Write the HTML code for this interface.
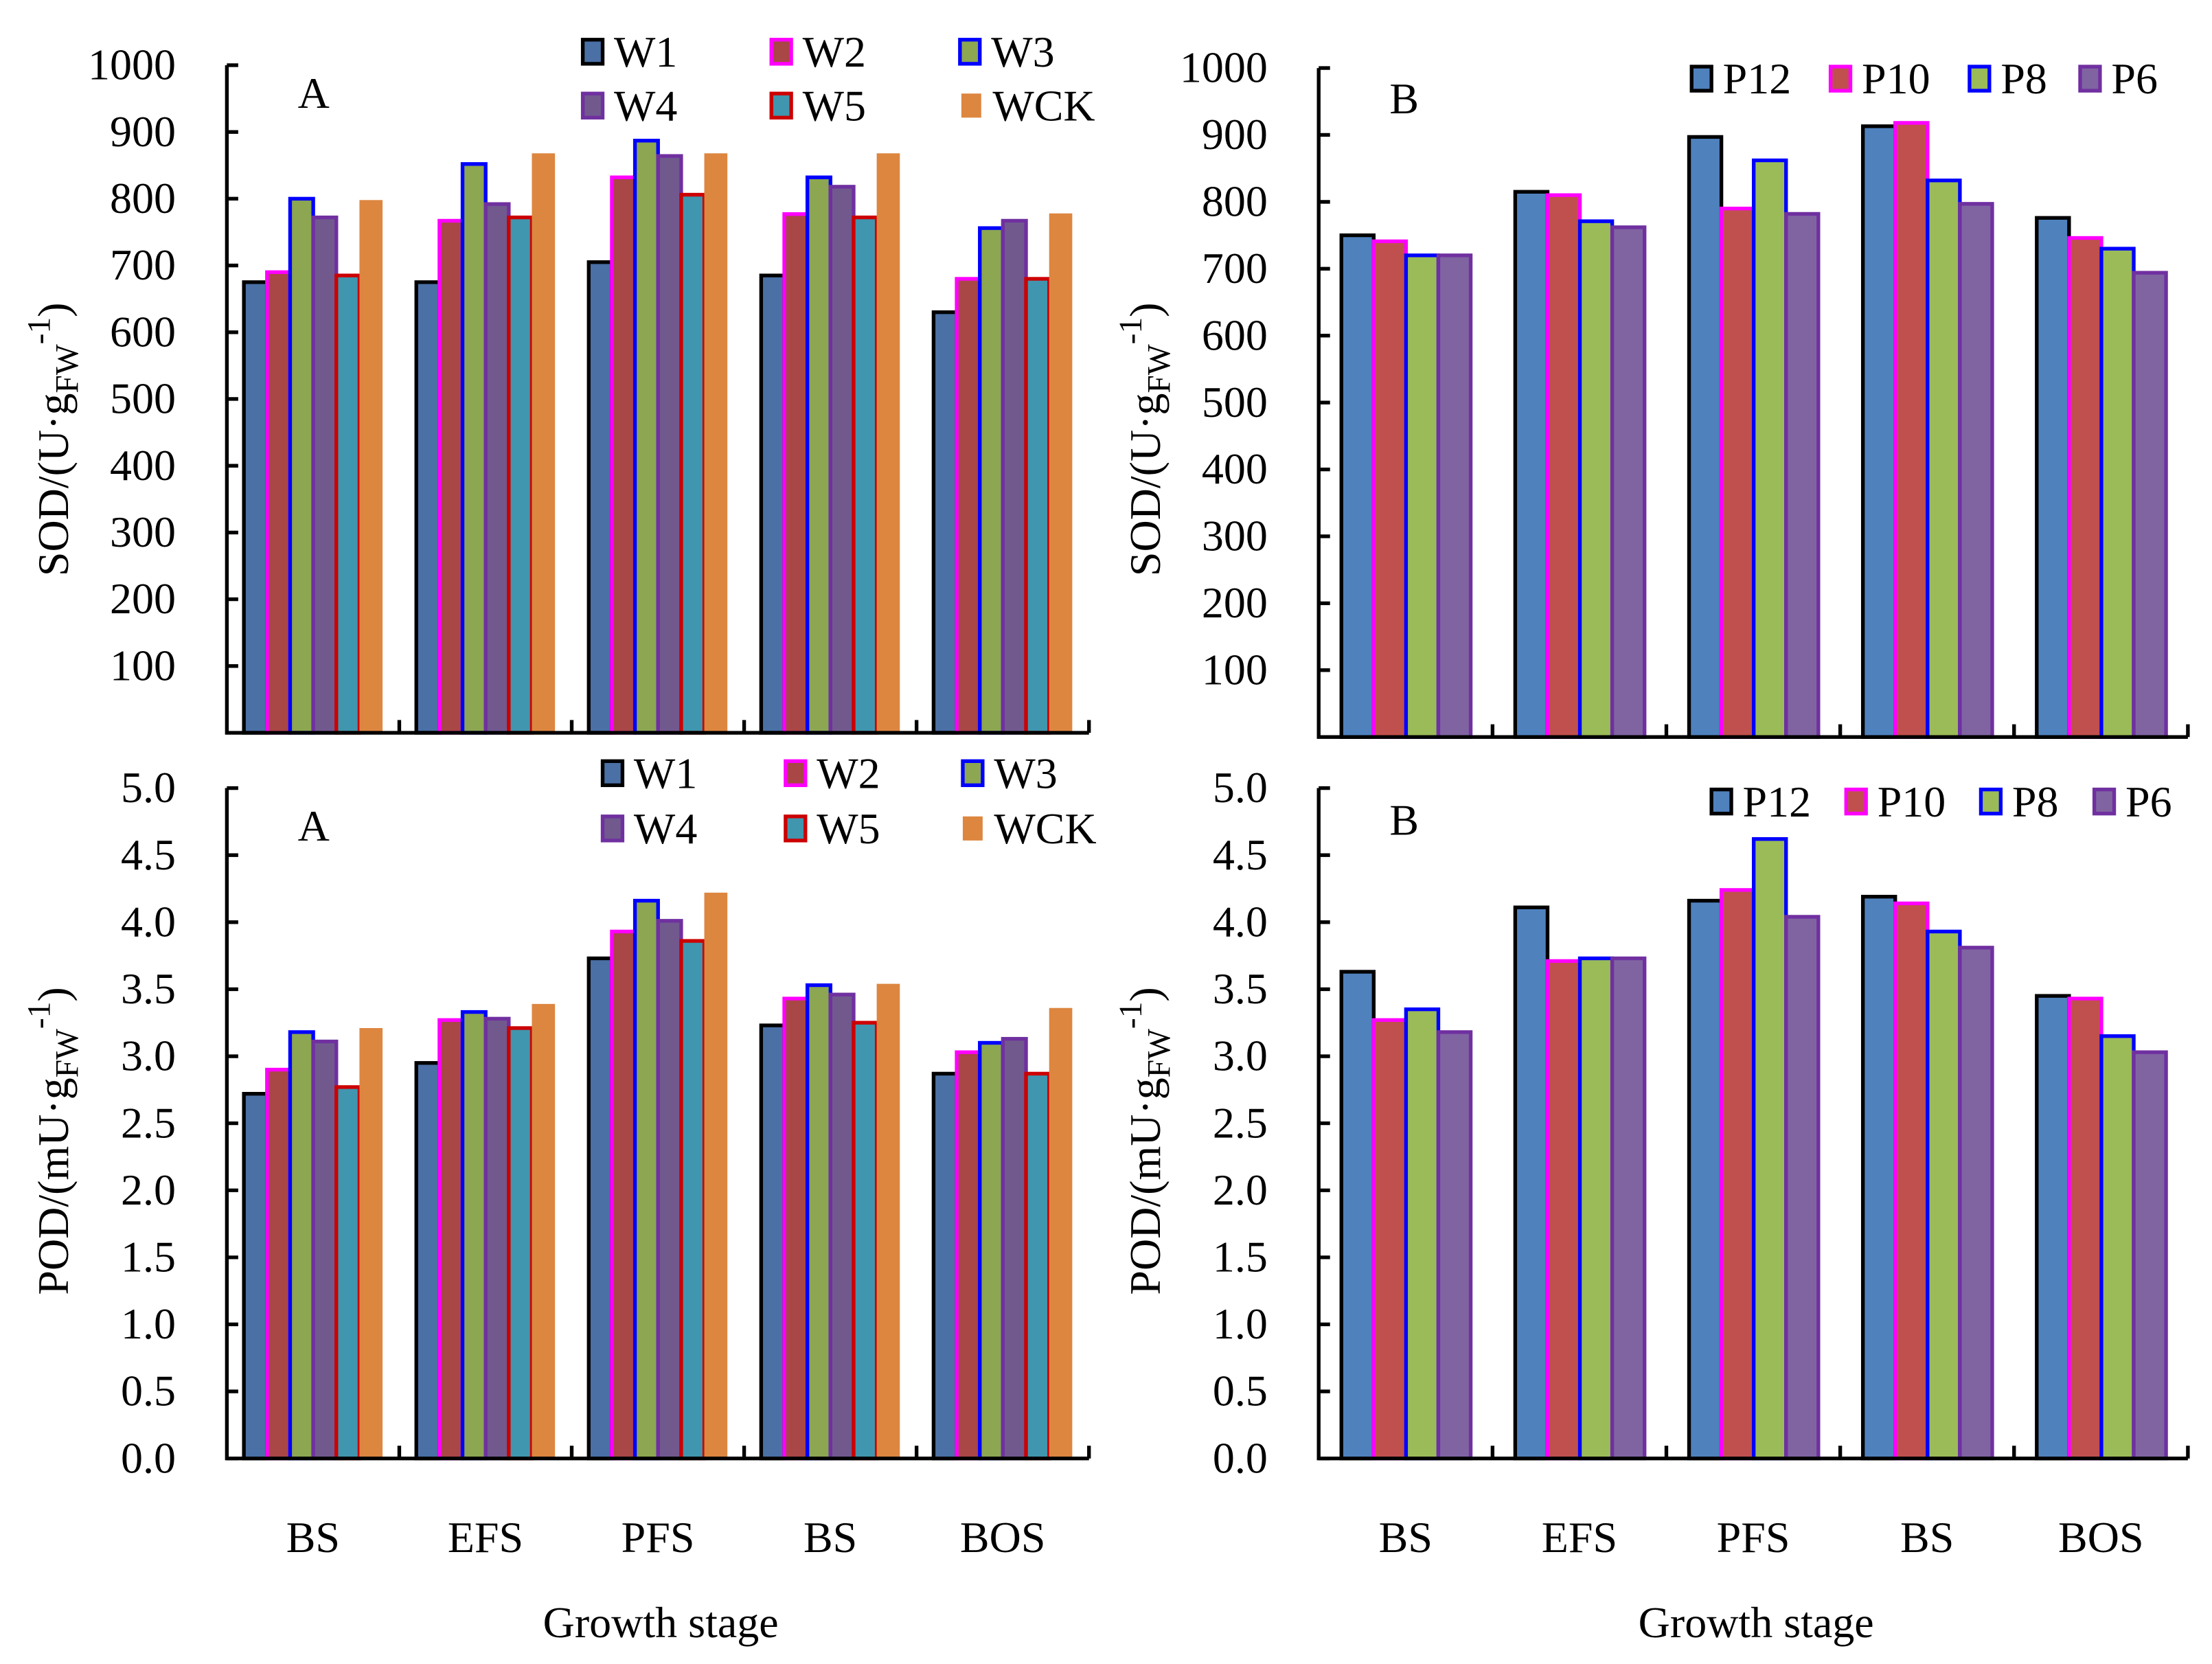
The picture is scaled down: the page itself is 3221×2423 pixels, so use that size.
<!DOCTYPE html>
<html><head><meta charset="utf-8">
<style>
html,body{margin:0;padding:0;background:#fff;}
svg{display:block;}
text{font-family:"Liberation Serif","DejaVu Serif",serif;fill:#000;}
</style></head>
<body>
<svg id="fig" width="3221" height="2423" viewBox="0 0 1560 1174" preserveAspectRatio="none" xmlns="http://www.w3.org/2000/svg"></svg>
<script>
const stages = ["BS","EFS","PFS","BS","BOS"];
const wSeries = ["W1","W2","W3","W4","W5","WCK"];
const pSeries = ["P12","P10","P8","P6"];
// SOD panel A
const sodA_W1 = [675,675,705,685,630];
const sodA_W2 = [690,767,832,777,680];
const sodA_W3 = [800,852,887,832,756];
const sodA_W4 = [772,792,864,818,767];
const sodA_W5 = [685,772,806,772,680];
const sodA_WCK = [798,868,868,868,778];
// SOD panel B
const sodB_P12 = [750,815,897,913,776];
const sodB_P10 = [741,810,790,918,746];
const sodB_P8 = [720,771,862,832,730];
const sodB_P6 = [720,762,782,797,694];
// POD panel A
const podA_W1 = [2.72,2.95,3.73,3.23,2.87];
const podA_W2 = [2.90,3.27,3.93,3.43,3.03];
const podA_W3 = [3.18,3.33,4.16,3.53,3.10];
const podA_W4 = [3.11,3.28,4.01,3.46,3.13];
const podA_W5 = [2.77,3.21,3.86,3.25,2.87];
const podA_WCK = [3.21,3.39,4.22,3.54,3.36];
// POD panel B
const podB_P12 = [3.63,4.11,4.16,4.19,3.45];
const podB_P10 = [3.27,3.71,4.24,4.14,3.43];
const podB_P8 = [3.35,3.73,4.62,3.93,3.15];
const podB_P6 = [3.18,3.73,4.04,3.81,3.03];
const sodTicks = ["100","200","300","400","500","600","700","800","900","1000"];
const podTicks = ["0.0","0.5","1.0","1.5","2.0","2.5","3.0","3.5","4.0","4.5","5.0"];

const NS="http://www.w3.org/2000/svg";
const svg=document.getElementById('fig');
function mk(tag,attrs,parent){const e=document.createElementNS(NS,tag);for(const k in attrs)e.setAttribute(k,attrs[k]);(parent||svg).appendChild(e);return e;}

const wFill=["#4a70a5","#a94646","#8ca652","#71598e","#4096ae","#dd8640"];
const wStroke=["#000","#ff00ff","#0000ff","#7030a0","#cc0000","none"];
const pFill=["#4f81bd","#c0504d","#9bbb59","#8064a2"];
const pStroke=["#000","#ff00ff","#0000ff","#7030a0"];
const FS=31;

function panel(opt){
  const g=mk('g',{});
  
  
  const x0=opt.x0, x1=opt.x1, yB=opt.yB, yT=opt.yT, max=opt.max;
  const yScale=v=>yB-(v/max)*(yB-yT);
  const cw=(x1-x0)/stages.length;
  const ns=opt.series.length;
  for(let c=0;c<stages.length;c++){
    for(let s=0;s<ns;s++){
      const v=opt.data[s][c];
      const bx=x0+c*cw+opt.off+s*opt.bw;
      const y=yScale(v);
      const r=mk('rect',{x:bx,y:y,width:opt.bw,height:yB-y,fill:opt.fill[s],stroke:opt.stroke[s],'stroke-width':opt.stroke[s]==='none'?0:2.6},g);
      
      
    }
  }
  const ax=mk('path',{d:`M${x0},${yT} V${yB} H${x1}`,stroke:'#000','stroke-width':2.6,fill:'none'},g);
  
  
  opt.ticks.forEach(t=>{
    const v=parseFloat(t), y=yScale(v);
    mk('line',{x1:x0,x2:x0+8,y1:y,y2:y,stroke:'#000','stroke-width':2.6},g);
    const tx=mk('text',{x:x0-36,y:y+10,'font-size':FS,'text-anchor':'end'},g);
    tx.textContent=t;
    
    
  });
  for(let c=1;c<=stages.length;c++){
    const x=x0+c*cw;
    mk('line',{x1:x,x2:x,y1:yB,y2:yB-9,stroke:'#000','stroke-width':2.6},g);
  }
  if(opt.xlabels){
    stages.forEach((s,c)=>{
      const t=mk('text',{x:x0+c*cw+cw/2,y:1095,'font-size':FS,'text-anchor':'middle'},g);
      t.textContent=s;
      
      
    });
    const gt=mk('text',{x:(x0+x1)/2+2,y:1155,'font-size':FS,'text-anchor':'middle'},g);
    gt.textContent='Growth stage';
    
    
  }
  const yt=mk('text',{transform:`translate(${x0-112},${opt.titleY}) rotate(-90)`,'font-size':FS,'text-anchor':'middle'},g);
  
  
  yt.innerHTML=opt.unit+'<tspan font-size="23" dy="7">FW</tspan><tspan font-size="23" dy="-20">-1</tspan><tspan dy="13">)</tspan>';
  const pl=mk('text',{x:x0+50,y:opt.letterY,'font-size':FS},g);
  pl.textContent=opt.letter;
  
  
  opt.legend.forEach((L,i)=>{
    const lg=mk('g',{},g);
    
    
    mk('rect',{x:L[0],y:L[1]-8,width:14,height:17,fill:opt.fill[i],stroke:opt.stroke[i],'stroke-width':opt.stroke[i]==='none'?0:2.6},lg);
    const t=mk('text',{x:L[0]+22,y:L[1]+11,'font-size':FS},lg);
    t.textContent=opt.series[i];
  });
}

panel({name:'sod-panel-a',x0:160,x1:768,yB:517,yT:46,max:1000,off:12,bw:16.3,series:wSeries,
  data:[sodA_W1,sodA_W2,sodA_W3,sodA_W4,sodA_W5,sodA_WCK],fill:wFill,stroke:wStroke,ticks:sodTicks,
  unit:'SOD/(U·g',titleY:310,letter:'A',letterY:76,
  legend:[[411,36],[544,36],[677,36],[411,74],[544,74],[678,74]]});
panel({name:'sod-panel-b',x0:930,x1:1543,yB:520,yT:48,max:1000,off:16,bw:22.8,series:pSeries,
  data:[sodB_P12,sodB_P10,sodB_P8,sodB_P6],fill:pFill,stroke:pStroke,ticks:sodTicks,
  unit:'SOD/(U·g',titleY:310,letter:'B',letterY:80,
  legend:[[1193,55],[1291,55],[1389,55],[1467,55]]});
panel({name:'pod-panel-a',x0:160,x1:768,yB:1029,yT:556,max:5,off:12,bw:16.3,series:wSeries,
  data:[podA_W1,podA_W2,podA_W3,podA_W4,podA_W5,podA_WCK],fill:wFill,stroke:wStroke,ticks:podTicks,
  unit:'POD/(mU·g',titleY:805,letter:'A',letterY:593,xlabels:true,
  legend:[[425,545],[554,545],[679,545],[425,584],[554,584],[679,584]]});
panel({name:'pod-panel-b',x0:930,x1:1543,yB:1029,yT:556,max:5,off:16,bw:22.8,series:pSeries,
  data:[podB_P12,podB_P10,podB_P8,podB_P6],fill:pFill,stroke:pStroke,ticks:podTicks,
  unit:'POD/(mU·g',titleY:805,letter:'B',letterY:589,xlabels:true,
  legend:[[1207,565],[1302,565],[1397,565],[1477,565]]});
</script>
</body></html>
